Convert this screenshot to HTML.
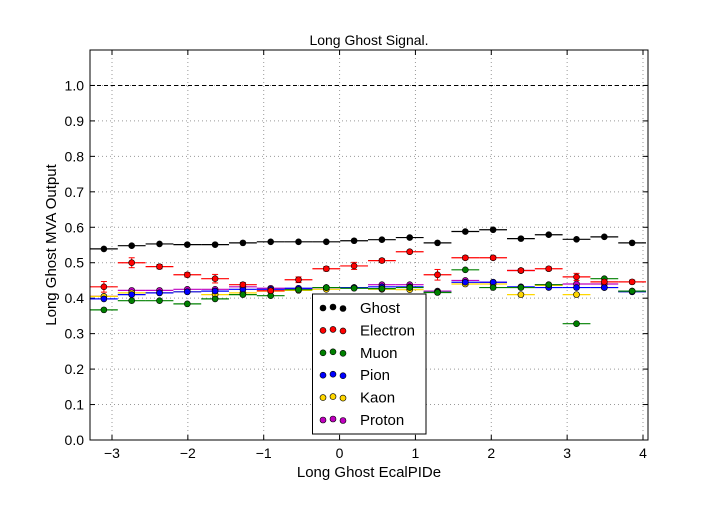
<!DOCTYPE html>
<html><head><meta charset="utf-8"><style>
body{margin:0;background:#fff}
svg text{font-family:"Liberation Sans",sans-serif}
</style></head><body>
<svg id="c" width="720" height="504" xmlns="http://www.w3.org/2000/svg"></svg>
<script>
const names=["Ghost","Electron","Muon","Pion","Kaon","Proton"];
const colors=["#000000","#ff0000","#008000","#0000ff","#ffd700","#bf00bf"];
const binStart=-3.29, binWidth=0.3665;
const ghost=[0.539,0.548,0.553,0.551,0.551,0.556,0.559,0.559,0.559,0.562,0.565,0.571,0.556,0.588,0.593,0.568,0.579,0.566,0.573,0.556];
const electron=[0.432,0.500,0.489,0.466,0.455,0.438,0.421,0.452,0.483,0.491,0.506,0.531,0.466,0.514,0.514,0.478,0.483,0.460,0.446,0.446];
const muon=[0.367,0.393,0.393,0.384,0.398,0.410,0.407,0.424,0.430,0.428,0.427,0.430,0.416,0.480,0.430,0.430,0.438,0.328,0.455,0.420];
const pion=[0.398,0.410,0.415,0.418,0.420,0.425,0.425,0.428,0.430,0.430,0.432,0.432,0.417,0.445,0.445,0.432,0.430,0.430,0.430,0.418];
const kaon=[0.405,0.415,0.415,0.418,0.410,0.415,0.420,0.422,0.425,0.430,0.425,0.424,0.418,0.440,0.440,0.410,0.436,0.410,0.430,0.418];
const proton=[0.405,0.422,0.422,0.425,0.425,0.432,0.428,0.427,0.430,0.430,0.438,0.438,0.420,0.450,0.445,0.478,0.438,0.440,0.440,0.420];
const electronErr=[0.015,0.014,0.006,0.006,0.012,0.006,0.005,0.008,0.006,0.01,0.005,0.004,0.015,0.005,0.005,0.005,0.005,0.01,0.006,0.005];
const xTicks=[-3,-2,-1,0,1,2,3,4];
const yTicks=[0,0.1,0.2,0.3,0.4,0.5,0.6,0.7,0.8,0.9,1.0];
const series=[ghost,electron,muon,pion,kaon,proton];
const L=90,R=648,T=50,B=440,xmin=-3.29,xmax=4.066,ymax=1.1;
const X=v=>L+(v-xmin)/(xmax-xmin)*(R-L);
const Y=v=>B-v/ymax*(B-T);
const svg=document.getElementById('c');
const NS="http://www.w3.org/2000/svg";
function mk(t,a,p){const e=document.createElementNS(NS,t);for(const k in a)e.setAttribute(k,a[k]);(p||svg).appendChild(e);return e;}
// grid
xTicks.forEach(v=>{const l=mk('line',{x1:X(v),x2:X(v),y1:T,y2:B,stroke:'#999','stroke-dasharray':'1,3'});


const t=mk('text',{x:X(v),y:B+18,'text-anchor':'middle','font-size':'14'});t.textContent=(v<0?'\u2212'+(-v):v);


mk('line',{x1:X(v),x2:X(v),y1:B,y2:B-5,stroke:'#000'});mk('line',{x1:X(v),x2:X(v),y1:T,y2:T+5,stroke:'#000'});});
yTicks.forEach(v=>{const l=mk('line',{x1:L,x2:R,y1:Y(v),y2:Y(v),stroke:'#999','stroke-dasharray':'1,3'});


const t=mk('text',{x:L-6,y:Y(v)+5,'text-anchor':'end','font-size':'14'});t.textContent=v.toFixed(1);


mk('line',{x1:L,x2:L+5,y1:Y(v),y2:Y(v),stroke:'#000'});mk('line',{x1:R,x2:R-5,y1:Y(v),y2:Y(v),stroke:'#000'});});
const ref=mk('line',{x1:L,x2:R,y1:Y(1),y2:Y(1),stroke:'#000','stroke-dasharray':'4,3'});


// series
series.slice().reverse().forEach((s,ri)=>{const si=series.length-1-ri;const g=mk('g',{});


s.forEach((v,i)=>{const a=binStart+i*binWidth,b=a+binWidth,c=a+binWidth/2;
mk('line',{x1:X(a),x2:X(b),y1:Y(v),y2:Y(v),stroke:colors[si],'stroke-width':1.2},g);
if(si===1){const e=electronErr[i];mk('line',{x1:X(c),x2:X(c),y1:Y(v-e),y2:Y(v+e),stroke:colors[si]},g);
mk('line',{x1:X(c)-3,x2:X(c)+3,y1:Y(v-e),y2:Y(v-e),stroke:colors[si]},g);mk('line',{x1:X(c)-3,x2:X(c)+3,y1:Y(v+e),y2:Y(v+e),stroke:colors[si]},g);}
const p=mk('circle',{cx:X(c),cy:Y(v),r:3,fill:colors[si],stroke:'#000','stroke-width':0.6},g);

});});
const fr=mk('rect',{x:L,y:T,width:R-L,height:B-T,fill:'none',stroke:'#000'});


// legend
const lg=mk('g',{});


mk('rect',{x:312.5,y:294,width:113.5,height:140,fill:'#fff',stroke:'#000'},lg);
names.forEach((n,i)=>{const y=307+i*22.4;const e=mk('g',{},lg);


[[323,1],[333,0],[343,1.5]].forEach(d=>mk('circle',{cx:d[0],cy:y+d[1],r:3,fill:colors[i],stroke:'#000','stroke-width':0.6},e));
const t=mk('text',{x:360,y:y+6,'font-size':'15'},e);t.textContent=n;});
const tt=mk('text',{x:369,y:45,'text-anchor':'middle','font-size':'14'});tt.textContent='Long Ghost Signal.';


const xl=mk('text',{x:369,y:477,'text-anchor':'middle','font-size':'15'});xl.textContent='Long Ghost EcalPIDe';


const yl=mk('text',{x:0,y:0,'text-anchor':'middle','font-size':'15',transform:'translate(56,245) rotate(-90)'});yl.textContent='Long Ghost MVA Output';


</script>
</body></html>
